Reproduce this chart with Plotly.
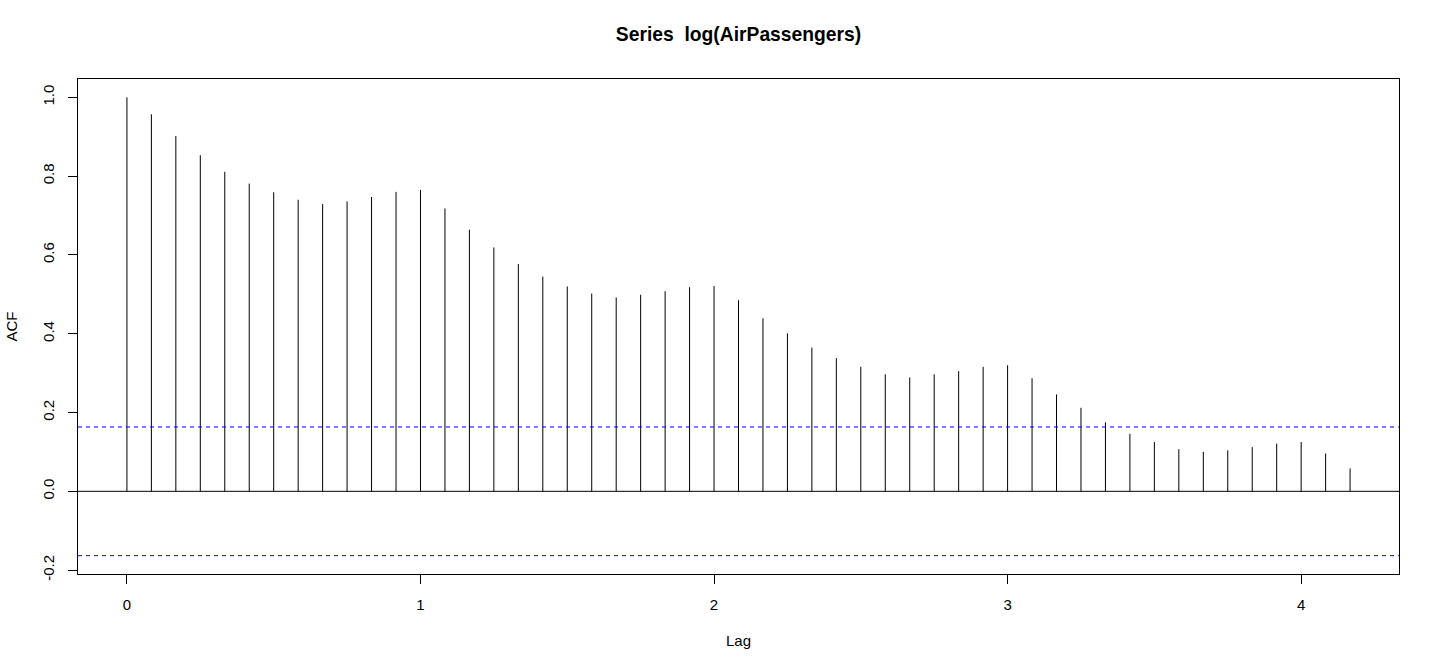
import plotly.graph_objects as go

lags = [k / 12 for k in range(51)]
acf_values = [1.000, 0.957, 0.902, 0.853, 0.811, 0.781, 0.759, 0.740, 0.729, 0.736,
              0.747, 0.760, 0.765, 0.718, 0.664, 0.619, 0.577, 0.545, 0.520, 0.502,
              0.492, 0.499, 0.508, 0.518, 0.521, 0.485, 0.439, 0.401, 0.365, 0.338,
              0.316, 0.297, 0.289, 0.297, 0.305, 0.316, 0.320, 0.287, 0.246, 0.212,
              0.175, 0.146, 0.125, 0.107, 0.100, 0.104, 0.112, 0.121, 0.125, 0.096,
              0.058]
ci_bound = 1.96 / 144 ** 0.5
x_ticks = [0, 1, 2, 3, 4]
y_ticks = [-0.2, 0.0, 0.2, 0.4, 0.6, 0.8, 1.0]

xs, ys = [], []
for lag, v in zip(lags, acf_values):
    xs += [lag, lag, None]
    ys += [0, v, None]

x_range = [-0.04 * lags[-1], lags[-1] * 1.04]
y_lo = -ci_bound
y_hi = 1.0
span = y_hi - y_lo
y_range = [y_lo - 0.04 * span, y_hi + 0.04 * span]

fig = go.Figure()
fig.add_trace(go.Scatter(x=xs, y=ys, mode="lines",
                         line=dict(color="black", width=1), hoverinfo="skip"))
fig.add_trace(go.Scatter(x=x_range, y=[0, 0], mode="lines",
                         line=dict(color="black", width=1), hoverinfo="skip"))
for b in (ci_bound, -ci_bound):
    fig.add_trace(go.Scatter(x=x_range, y=[b, b], mode="lines",
                             line=dict(color="blue", width=1, dash="4px,4px"),
                             hoverinfo="skip"))

font = "Liberation Sans, Arial, Helvetica, sans-serif"
fig.update_layout(
    width=1440, height=672,
    paper_bgcolor="white", plot_bgcolor="white",
    showlegend=False,
    margin=dict(l=78, r=41, t=79, b=98),
    font=dict(family=font, size=15, color="black"),
    title=dict(text="<b>Series  log(AirPassengers)</b>", x=0.5 * (78 + 1399) / 1440,
               xanchor="center", xref="container", yref="container",
               y=1 - 34 / 672, yanchor="middle", font=dict(size=19.3, family=font)),
)
fig.update_xaxes(range=x_range, tickvals=x_ticks, ticktext=[str(t) for t in x_ticks],
                 showgrid=False, zeroline=False, showline=True, mirror=True,
                 linecolor="black", linewidth=1, ticks="outside", ticklen=9,
                 tickcolor="black", ticklabelstandoff=8,
                 title=dict(text="Lag", standoff=23, font=dict(size=15)))
fig.update_yaxes(range=y_range, tickvals=y_ticks, ticktext=[f"{t:.1f}" for t in y_ticks],
                 showgrid=False, zeroline=False, showline=True, mirror=True,
                 linecolor="black", linewidth=1, ticks="outside", ticklen=9,
                 tickcolor="black", tickangle=-90, ticklabelstandoff=8,
                 title=dict(text="ACF", standoff=18, font=dict(size=15)))

fig.write_html("out.html", config={"displayModeBar": False},
               post_script="document.body.style.margin='0';")
